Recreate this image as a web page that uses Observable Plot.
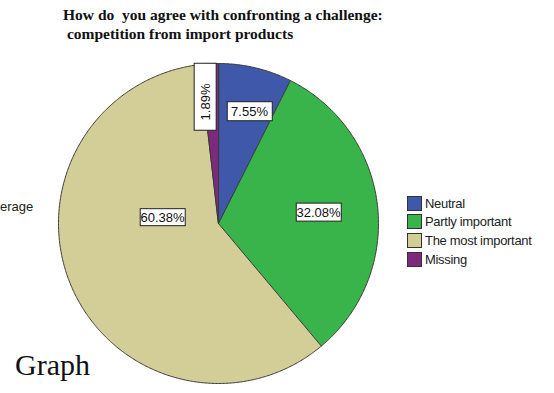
<!DOCTYPE html>
<html>
<head>
<meta charset="utf-8">
<script src="https://cdn.jsdelivr.net/npm/d3@7"></script>
<script src="https://cdn.jsdelivr.net/npm/@observablehq/plot@0.6"></script>
<style>
  html, body { margin: 0; padding: 0; background: #fff; }
  #wrap { position: relative; width: 554px; height: 393px; overflow: hidden; background: #fff; }
  #title { position: absolute; left: 63px; top: 5px; font-family: "Liberation Serif", serif; font-weight: bold;
           font-size: 15.5px; line-height: 19px; white-space: pre; color: #111; }
  #pie { position: absolute; left: 57px; top: 62px; }
  #pie svg { overflow: visible; }
  #legend { position: absolute; left: 407px; top: 194px; font-family: "Liberation Sans", Arial, sans-serif;
            font-size: 13px; color: #222; letter-spacing: -0.3px; }
  .item { display: flex; align-items: center; height: 18.6px; white-space: nowrap; }
  .sw { width: 13px; height: 13px; border: 1px solid #333; margin-right: 3px; box-sizing: content-box; }
  #side { position: absolute; left: 0px; top: 199px; font-family: "Liberation Sans", Arial, sans-serif; font-size: 13px; color: #222; }
  #graph { position: absolute; left: 15px; top: 348px; font-family: "Liberation Serif", serif; font-size: 30px; color: #111; }
</style>
</head>
<body>
<div id="wrap">
  <div id="title">How do  you agree with confronting a challenge:
 competition from import products</div>
  <div id="pie"></div>
  <div id="legend"></div>
  <div id="side">erage</div>
  <div id="graph">Graph</div>
</div>
<script>
// ---- data ----
const categories = ["Neutral", "Partly important", "The most important", "Missing"];
const percents = [7.55, 32.08, 60.38, 1.89];
const percentLabels = ["7.55%", "32.08%", "60.38%", "1.89%"];
const colors = ["#3f58a9", "#38b44a", "#d3cd98", "#7c2a7c"];

// ---- label layout (polar position inside the pie, rotation, box size) ----
const labelLayout = [
  {angle: 15.5, r: 0.726, rotate: 0, boxW: 45, boxH: 19, shift: 0},
  {angle: 83.7, r: 0.629, rotate: 0, boxW: 45, boxH: 18, shift: 0},
  {angle: 276.1, r: 0.352, rotate: 0, boxW: 45, boxH: 17, shift: 0},
  {angle: 353.9, r: 0.764, rotate: -90, boxW: 67, boxH: 22, shift: 5}
];

const rows = categories.map((c, i) => ({cat: c, pct: percents[i], label: percentLabels[i]}));
const arcs = d3.pie().sort(null).value(d => d.pct)(rows);

const poly = [];
for (const a of arcs) {
  const n = Math.max(2, Math.ceil((a.endAngle - a.startAngle) / (Math.PI / 360)) + 1);
  poly.push({cat: a.data.cat, x: 0, y: 0});
  for (let k = 0; k < n; k++) {
    const t = a.startAngle + (a.endAngle - a.startAngle) * k / (n - 1);
    poly.push({cat: a.data.cat, x: Math.sin(t), y: Math.cos(t)});
  }
}

const labelRows = rows.map((d, i) => {
  const L = labelLayout[i];
  const t = L.angle * Math.PI / 180;
  return {label: d.label, x: L.r * Math.sin(t), y: L.r * Math.cos(t), rotate: L.rotate, i};
});

const chart = Plot.plot({
  width: 322, height: 322, margin: 1,
  x: {domain: [-1, 1], axis: null},
  y: {domain: [-1, 1], axis: null},
  color: {domain: categories, range: colors},
  marks: [
    Plot.line(poly, {x: "x", y: "y", z: "cat", fill: "cat", stroke: "#3a3a3a", strokeWidth: 1, curve: "linear-closed"}),
    Plot.text(labelRows, {x: "x", y: "y", text: "label", rotate: "rotate", fontSize: 13,
      fontFamily: "Liberation Sans, Arial, sans-serif", fill: "#111", className: "pct-labels"})
  ]
});
document.getElementById("pie").appendChild(chart);

// white boxes behind the percentage labels
const texts = chart.querySelectorAll("g.pct-labels text, .pct-labels text");
texts.forEach((t, j) => {
  const L = labelLayout[labelRows[j].i];
  const bb = t.getBBox();
  const cx = bb.x + bb.width / 2 + L.shift, cy = bb.y + bb.height / 2;
  const rect = document.createElementNS("http://www.w3.org/2000/svg", "rect");
  rect.setAttribute("x", cx - L.boxW / 2);
  rect.setAttribute("y", cy - L.boxH / 2);
  rect.setAttribute("width", L.boxW);
  rect.setAttribute("height", L.boxH);
  rect.setAttribute("fill", "#fff");
  rect.setAttribute("stroke", "#222");
  rect.setAttribute("stroke-width", 1);
  if (t.getAttribute("transform")) rect.setAttribute("transform", t.getAttribute("transform"));
  t.parentNode.insertBefore(rect, t);
});

// legend from the plot's color scale
const color = chart.scale("color");
const leg = document.getElementById("legend");
color.domain.forEach((c, i) => {
  const item = document.createElement("div");
  item.className = "item";
  const sw = document.createElement("div");
  sw.className = "sw";
  sw.style.background = color.range[i];
  const tx = document.createElement("span");
  tx.textContent = c;
  item.appendChild(sw); item.appendChild(tx);
  leg.appendChild(item);
});
</script>
</body>
</html>
